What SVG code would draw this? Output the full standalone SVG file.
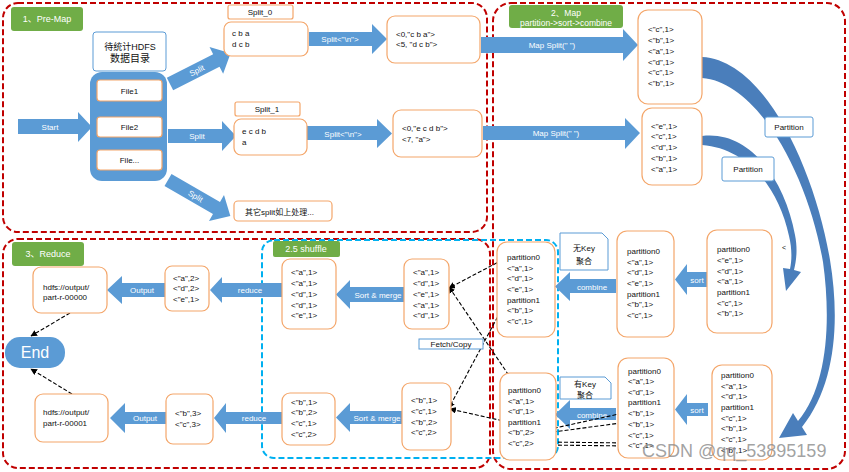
<svg xmlns="http://www.w3.org/2000/svg" width="849" height="472" viewBox="0 0 849 472">
<defs>
<style>
.reg{fill:none;stroke:#C00000;stroke-width:2;stroke-dasharray:6,3}
.shf{fill:none;stroke:#00B0F0;stroke-width:2;stroke-dasharray:6,3}
.box{fill:#fff;stroke:#F4A66A;stroke-width:1.2}
.lbl{fill:#fff;stroke:#5B9BD5;stroke-width:1}
.grn{fill:#70AD47}
.arr{fill:#5B9BD5}
.crv{fill:#4A7EBB}
.t{font-family:"Liberation Sans","Noto Sans CJK SC",sans-serif;font-size:8px;fill:#111}
.w{fill:#fff}
.m{text-anchor:middle}
.dl{fill:none;stroke:#000;stroke-width:1.1;stroke-dasharray:4,2;marker-end:url(#ah)}
</style>
<marker id="ah" viewBox="0 0 10 10" refX="9" refY="5" markerWidth="6" markerHeight="6" orient="auto">
<path d="M0,0 L10,5 L0,10 z" fill="#000"/>
</marker>
</defs>

<g id="regions">
<rect class="reg" x="3" y="3" width="484" height="229" rx="15"/>
<rect class="reg" x="493" y="3" width="352" height="466" rx="18"/>
<rect class="reg" x="3" y="239" width="487" height="229" rx="15"/>
<rect class="shf" x="262" y="240" width="296" height="218" rx="12"/>
</g>

<g id="stage-labels">
<rect class="grn" x="11" y="7" width="72" height="24" rx="3"/>
<text class="t w m" x="47" y="22" style="font-size:9px">1、Pre-Map</text>
<rect class="grn" x="509" y="5" width="114" height="23" rx="3"/>
<text class="t w m" x="566" y="15.5" style="font-size:8.5px">2、Map</text>
<text class="t w m" x="566" y="25.5" style="font-size:8.5px">partition-&gt;sort-&gt;combine</text>
<rect class="grn" x="12" y="242" width="72" height="24" rx="3"/>
<text class="t w m" x="48" y="257" style="font-size:9px">3、Reduce</text>
<rect class="grn" x="273" y="241" width="67" height="16" rx="2"/>
<text class="t w m" x="306" y="252" style="font-size:9px">2.5 shuffle</text>
</g>

<g id="curved-arrows">
<path class="crv" d="M702,57 C765,60 815,170 830,260 C840,320 836,385 802,427 L807,435 L779,438 L793,413 L798,421 C828,385 831,320 823,262 C808,175 758,82 702,78 Z"/>
<path class="crv" d="M702,136 C750,130 785,180 795,235 C798,250 796,262 794,270 L801,272 L786,291 L783,268 L790,269 C792,260 792,248 789,236 C778,185 745,148 702,145 Z"/>
</g>

<g id="connectors">
<g id="block-arrows">
<polygon class="arr" points="18,119 78,119 78,112 92,127 78,142 78,134 18,134"/>
<text class="t w m" x="50" y="130">Start</text>
<g transform="translate(170,84) rotate(-27)">
<polygon class="arr" points="0,-7 52,-7 52,-15 68,0 52,15 52,7 0,7"/>
<text class="t w m" x="30" y="3">Split</text>
</g>
<polygon class="arr" points="168,129 222,129 222,121 236,136 222,151 222,143 168,143"/>
<text class="t w m" x="197" y="139">Split</text>
<g transform="translate(168,180) rotate(30)">
<polygon class="arr" points="0,-7 56,-7 56,-15 72,0 56,15 56,7 0,7"/>
<text class="t w m" x="32" y="3">Split</text>
</g>
<polygon class="arr" points="309,32 372,32 372,24 387,39 372,54 372,46 309,46"/>
<text class="t w m" x="340" y="42">Split&lt;"\n"&gt;</text>
<polygon class="arr" points="307,126 377,126 377,119 392,133.5 377,148 377,140 307,140"/>
<text class="t w m" x="343" y="136.5">Split&lt;"\n"&gt;</text>
<polygon class="arr" points="481,37 623,37 623,29 638,45 623,61 623,53 481,53"/>
<text class="t w m" x="552" y="48">Map Split(" ")</text>
<polygon class="arr" points="483,126 625,126 625,118 640,133 625,149 625,140 483,140"/>
<text class="t w m" x="556" y="136">Map Split(" ")</text>
<polygon class="arr" points="675,279.5 687,264 687,272 707,272 707,287 687,287 687,295"/>
<text class="t w m" x="697" y="282.5">sort</text>
<polygon class="arr" points="675,409.5 687,394 687,403 708,403 708,416 687,416 687,425"/>
<text class="t w m" x="697" y="412.5">sort</text>
<polygon class="arr" points="555,286.5 570,272 570,279 616,279 616,293 570,293 570,301"/>
<text class="t w m" x="592" y="289.5">combine</text>
<polygon class="arr" points="555,414.5 570,400 570,408 616,408 616,420 570,420 570,429"/>
<text class="t w m" x="592" y="417.5">combine</text>
<polygon class="arr" points="336,294.5 350,280 350,287 404,287 404,302 350,302 350,309"/>
<text class="t w m" x="378" y="297.5">Sort &amp; merge</text>
<polygon class="arr" points="336,417.5 350,403 350,411 402,411 402,424 350,424 350,432"/>
<text class="t w m" x="377" y="420.5">Sort &amp; merge</text>
<polygon class="arr" points="210,290 222,277 222,283 282,283 282,297 222,297 222,303"/>
<text class="t w m" x="250" y="293">reduce</text>
<polygon class="arr" points="214,418 226,403 226,412 282,412 282,424 226,424 226,433"/>
<text class="t w m" x="254" y="421">reduce</text>
<polygon class="arr" points="107,290 122,276 122,283 165,283 165,297 122,297 122,304"/>
<text class="t w m" x="142" y="293">Output</text>
<polygon class="arr" points="110,418 125,403 125,412 166,412 166,424 125,424 125,433"/>
<text class="t w m" x="145" y="421">Output</text>
</g>
<g id="dashed-arrows">
<line class="dl" x1="508" y1="257" x2="449" y2="288"/>
<line class="dl" x1="506" y1="301" x2="449" y2="408"/>
<line class="dl" x1="512" y1="380" x2="449" y2="287"/>
<line class="dl" x1="508" y1="422" x2="450" y2="409"/>
<line class="dl" x1="628" y1="412" x2="546" y2="430"/>
<line class="dl" x1="628" y1="422" x2="546" y2="433"/>
<line class="dl" x1="628" y1="443" x2="546" y2="442"/>
<line class="dl" x1="628" y1="446" x2="546" y2="445"/>
<line class="dl" x1="70" y1="313" x2="31" y2="336"/>
<line class="dl" x1="72" y1="394" x2="31" y2="369"/>
</g>
</g>

<g id="hdfs-dir">
<rect class="lbl" x="93" y="32" width="73" height="39" rx="3"/>
<text class="t m" x="130" y="50" style="font-size:9px">待统计HDFS</text>
<text class="t m" x="130" y="62" style="font-size:10px">数据目录</text>
</g>
<g id="files">
<rect x="90" y="72" width="77" height="109" rx="12" fill="#5B9BD5"/>
<rect class="box" x="97" y="80" width="65" height="21" rx="3"/>
<text class="t m" x="129.5" y="94">File1</text>
<rect class="box" x="97" y="117" width="65" height="20" rx="3"/>
<text class="t m" x="129.5" y="130">File2</text>
<rect class="box" x="97" y="150" width="65" height="20" rx="3"/>
<text class="t m" x="129.5" y="163">File...</text>
</g>

<g id="split0-label"><rect class="box" x="228" y="5" width="65" height="14" rx="2"/><text class="t m" x="260" y="15">Split_0</text></g>
<g id="split0"><rect class="box" x="224" y="22" width="84" height="34" rx="7"/>
<text class="t" x="232" y="36">c b a</text><text class="t" x="232" y="47">d c b</text></g>
<g id="kv0"><rect class="box" x="387" y="16" width="93" height="47" rx="8"/>
<text class="t" x="396" y="37">&lt;0,"c b a"&gt;</text><text class="t" x="396" y="47">&lt;5, "d c b"&gt;</text></g>
<g id="split1-label"><rect class="box" x="235" y="102" width="65" height="14" rx="2"/><text class="t m" x="267" y="112">Split_1</text></g>
<g id="split1"><rect class="box" x="234" y="119" width="73" height="36" rx="7"/>
<text class="t" x="242" y="134">e c d b</text><text class="t" x="242" y="145">a</text></g>
<g id="kv1"><rect class="box" x="393" y="110" width="89" height="47" rx="8"/>
<text class="t" x="402" y="131">&lt;0,"e c d b"&gt;</text><text class="t" x="402" y="142">&lt;7, "a"&gt;</text></g>
<g id="other-splits"><rect class="box" x="234" y="201" width="98" height="20" rx="4"/>
<text class="t" x="245" y="215">其它split如上处理...</text></g>

<g id="map0"><rect class="box" x="638" y="10" width="64" height="94" rx="10"/>
<text class="t" x="648" y="32">&lt;"c",1&gt;</text><text class="t" x="648" y="43">&lt;"b",1&gt;</text><text class="t" x="648" y="54">&lt;"a",1&gt;</text><text class="t" x="648" y="65">&lt;"d",1&gt;</text><text class="t" x="648" y="75">&lt;"c",1&gt;</text><text class="t" x="648" y="86">&lt;"b",1&gt;</text></g>
<g id="map1"><rect class="box" x="642" y="108" width="60" height="77" rx="10"/>
<text class="t" x="651" y="129">&lt;"e",1&gt;</text><text class="t" x="651" y="139">&lt;"c",1&gt;</text><text class="t" x="651" y="150">&lt;"d",1&gt;</text><text class="t" x="651" y="161">&lt;"b",1&gt;</text><text class="t" x="651" y="172">&lt;"a",1&gt;</text></g>

<g id="partition-label-1"><rect class="lbl" x="765" y="117" width="48" height="20" rx="2"/><text class="t m" x="789" y="130">Partition</text></g>
<g id="partition-label-2"><rect class="lbl" x="722" y="157" width="52" height="24" rx="2"/><text class="t m" x="748" y="172">Partition</text></g>
<text class="t" x="782" y="250" style="font-size:7px">&lt;</text>

<g id="part0"><rect class="box" x="707" y="230" width="65" height="103" rx="10"/>
<text class="t" x="717" y="252">partition0</text><text class="t" x="717" y="263">&lt;"e",1&gt;</text><text class="t" x="717" y="274">&lt;"d",1&gt;</text><text class="t" x="717" y="284">&lt;"a",1&gt;</text><text class="t" x="717" y="295">partition1</text><text class="t" x="717" y="306">&lt;"c",1&gt;</text><text class="t" x="717" y="316">&lt;"b",1&gt;</text></g>
<g id="part1"><rect class="box" x="712" y="365" width="60" height="95" rx="10"/>
<text class="t" x="721" y="378">partition0</text><text class="t" x="721" y="389">&lt;"a",1&gt;</text><text class="t" x="721" y="399">&lt;"d",1&gt;</text><text class="t" x="721" y="410">partition1</text><text class="t" x="721" y="421">&lt;"c",1&gt;</text><text class="t" x="721" y="431">&lt;"b",1&gt;</text><text class="t" x="721" y="442">&lt;"c",1&gt;</text><text class="t" x="721" y="453">&lt;"b",1&gt;</text></g>

<g id="sorted0"><rect class="box" x="617" y="231" width="57" height="106" rx="10"/>
<text class="t" x="627" y="254">partition0</text><text class="t" x="627" y="265">&lt;"a",1&gt;</text><text class="t" x="627" y="275">&lt;"d",1&gt;</text><text class="t" x="627" y="286">&lt;"e",1&gt;</text><text class="t" x="627" y="297">partition1</text><text class="t" x="627" y="307">&lt;"b",1&gt;</text><text class="t" x="627" y="318">&lt;"c",1&gt;</text></g>
<g id="sorted1"><rect class="box" x="618" y="358" width="56" height="100" rx="10"/>
<text class="t" x="628" y="374">partition0</text><text class="t" x="628" y="384">&lt;"a",1&gt;</text><text class="t" x="628" y="395">&lt;"d",1&gt;</text><text class="t" x="628" y="405">partition1</text><text class="t" x="628" y="416">&lt;"b",1&gt;</text><text class="t" x="628" y="427">&lt;"b",1&gt;</text><text class="t" x="628" y="438">&lt;"c",1&gt;</text><text class="t" x="628" y="448">&lt;"c",1&gt;</text></g>

<g id="nokey-label"><path class="lbl" d="M560,233 H602 L608,239 V270 H560 Z"/>
<text class="t m" x="584" y="251">无Key</text><text class="t m" x="584" y="264">聚合</text></g>
<g id="key-label"><path class="lbl" d="M560,377 H605 L611,383 V399 H560 Z"/>
<text class="t m" x="585" y="387">有Key</text><text class="t m" x="585" y="398">聚合</text></g>

<g id="combined0"><rect class="box" x="497" y="242" width="58" height="95" rx="10"/>
<text class="t" x="507" y="260">partition0</text><text class="t" x="507" y="271">&lt;"a",1&gt;</text><text class="t" x="507" y="281">&lt;"d",1&gt;</text><text class="t" x="507" y="292">&lt;"e",1&gt;</text><text class="t" x="507" y="303">partition1</text><text class="t" x="507" y="313">&lt;"b",1&gt;</text><text class="t" x="507" y="324">&lt;"c",1&gt;</text></g>
<g id="combined1"><rect class="box" x="500" y="373" width="56" height="87" rx="10"/>
<text class="t" x="508" y="393">partition0</text><text class="t" x="508" y="404">&lt;"a",1&gt;</text><text class="t" x="508" y="414">&lt;"d",1&gt;</text><text class="t" x="508" y="425">partition1</text><text class="t" x="508" y="435">&lt;"b",2&gt;</text><text class="t" x="508" y="446">&lt;"c",2&gt;</text></g>

<g id="fetch-label"><rect class="lbl" x="419" y="339" width="64" height="10"/><text class="t m" x="451" y="347">Fetch/Copy</text></g>

<g id="fetched0"><rect class="box" x="404" y="259" width="45" height="70" rx="8"/>
<text class="t" x="413" y="275">&lt;"a",1&gt;</text><text class="t" x="413" y="286">&lt;"d",1&gt;</text><text class="t" x="413" y="297">&lt;"e",1&gt;</text><text class="t" x="413" y="308">&lt;"a",1&gt;</text><text class="t" x="413" y="318">&lt;"d",1&gt;</text></g>
<g id="merged0"><rect class="box" x="282" y="259" width="54" height="70" rx="8"/>
<text class="t" x="291" y="275">&lt;"a",1&gt;</text><text class="t" x="291" y="286">&lt;"a",1&gt;</text><text class="t" x="291" y="297">&lt;"d",1&gt;</text><text class="t" x="291" y="308">&lt;"d",1&gt;</text><text class="t" x="291" y="318">&lt;"e",1&gt;</text></g>
<g id="fetched1"><rect class="box" x="402" y="383" width="49" height="67" rx="8"/>
<text class="t" x="411" y="403">&lt;"b",1&gt;</text><text class="t" x="411" y="414">&lt;"c",1&gt;</text><text class="t" x="411" y="425">&lt;"b",2&gt;</text><text class="t" x="411" y="435">&lt;"c",2&gt;</text></g>
<g id="merged1"><rect class="box" x="282" y="393" width="53" height="52" rx="8"/>
<text class="t" x="291" y="405">&lt;"b",1&gt;</text><text class="t" x="291" y="415">&lt;"b",2&gt;</text><text class="t" x="291" y="426">&lt;"c",1&gt;</text><text class="t" x="291" y="437">&lt;"c",2&gt;</text></g>

<g id="reduced0"><rect class="box" x="165" y="266" width="44" height="45" rx="7"/>
<text class="t" x="173" y="281">&lt;"a",2&gt;</text><text class="t" x="173" y="291">&lt;"d",2&gt;</text><text class="t" x="173" y="302">&lt;"e",1&gt;</text></g>
<g id="reduced1"><rect class="box" x="166" y="394" width="47" height="50" rx="7"/>
<text class="t" x="175" y="416">&lt;"b",3&gt;</text><text class="t" x="175" y="427">&lt;"c",3&gt;</text></g>
<g id="out0"><rect class="box" x="33" y="267" width="74" height="46" rx="8"/>
<text class="t" x="43" y="290">hdfs://output/</text><text class="t" x="43" y="300">part-r-00000</text></g>
<g id="out1"><rect class="box" x="35" y="394" width="73" height="48" rx="8"/>
<text class="t" x="43" y="415">hdfs://output/</text><text class="t" x="43" y="426">part-r-00001</text></g>
<g id="end"><rect x="5" y="337" width="60" height="31" rx="15" fill="#5B9BD5"/>
<text class="t w m" x="35" y="358" style="font-size:16px">End</text></g>

<text x="642" y="457" style="font-family:'Liberation Sans',sans-serif;font-size:18px" fill="#8a8a8a" fill-opacity="0.8">CSDN @qq_53895159</text>
</svg>
